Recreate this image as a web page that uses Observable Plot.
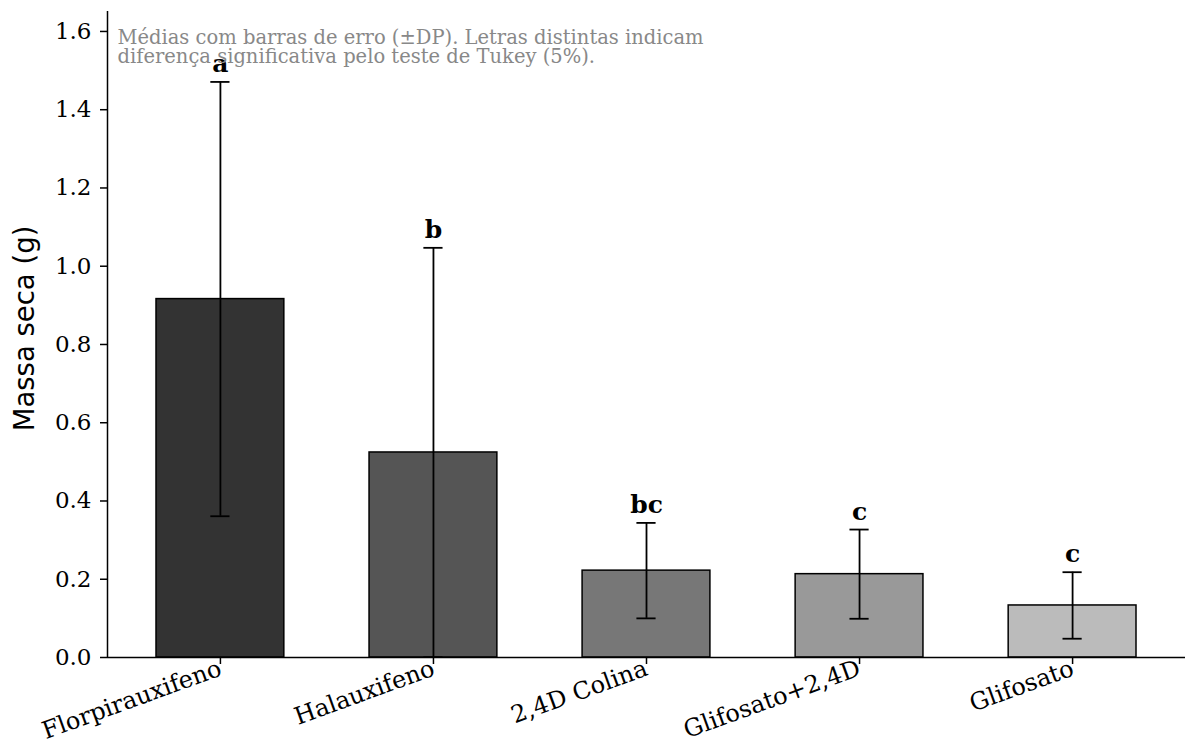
<!DOCTYPE html>
<html>
<head>
<meta charset="utf-8">
<script src="https://cdn.jsdelivr.net/npm/d3@7"></script>
<script src="https://cdn.jsdelivr.net/npm/@observablehq/plot@0.6"></script>
<style>
  html, body { margin: 0; padding: 0; background: #fff; }
  svg { display: block; }
</style>
</head>
<body>
<div id="chart"></div>
<script>
const categories = ["Florpirauxifeno", "Halauxifeno", "2,4D Colina", "Glifosato+2,4D", "Glifosato"];
const means = [0.916, 0.524, 0.222, 0.213, 0.133];
const sds = [0.555, 0.523, 0.122, 0.114, 0.085];
const letters = ["a", "b", "bc", "c", "c"];
const barColors = ["#333333", "#555555", "#777777", "#999999", "#bbbbbb"];
const yTicks = [0, 0.2, 0.4, 0.6, 0.8, 1.0, 1.2, 1.4, 1.6];
const yLabel = "Massa seca (g)";
const noteLines = ["Médias com barras de erro (±DP). Letras distintas indicam", "diferença significativa pelo teste de Tukey (5%)."];

const data = categories.map((c, i) => ({
  i, cat: c, mean: means[i], sd: sds[i], letter: letters[i], color: barColors[i],
  lo: Math.max(0, means[i] - sds[i]), hi: means[i] + sds[i]
}));

const serif = "DejaVu Serif";
const half = 0.3, cap = 0.045;

const noteStyle = {
  frameAnchor: "top-left", dx: 10, text: d => d, textAnchor: "start", lineAnchor: "bottom",
  fontFamily: serif, fontSize: 19.5, fill: "#888888"
};

const chart = Plot.plot({
  width: 1185,
  height: 743,
  marginLeft: 107,
  marginRight: 0,
  marginTop: 11,
  marginBottom: 86,
  style: { fontFamily: serif, background: "#fff", color: "#000" },
  x: { type: "linear", domain: [-0.53, 4.53] },
  y: { domain: [0, 1.651] },
  marks: [
    Plot.rectY(data, {
      x1: d => d.i - half, x2: d => d.i + half, y1: 0, y2: "mean",
      fill: d => d.color, stroke: "#000", strokeWidth: 1.5
    }),
    Plot.ruleX(data, { x: "i", y1: "lo", y2: "hi", stroke: "#000", strokeWidth: 1.8 }),
    Plot.ruleY(data, { y: "hi", x1: d => d.i - cap, x2: d => d.i + cap, stroke: "#000", strokeWidth: 1.8 }),
    Plot.ruleY(data, { y: "lo", x1: d => d.i - cap, x2: d => d.i + cap, stroke: "#000", strokeWidth: 1.8 }),
    Plot.text(data, {
      x: "i", y: "hi", text: "letter", dy: -10, lineAnchor: "bottom",
      fontFamily: serif, fontWeight: "bold", fontSize: 25, fill: "#000"
    }),
    Plot.ruleX([-0.53], { stroke: "#000", strokeWidth: 1.5 }),
    Plot.ruleY([0], { stroke: "#000", strokeWidth: 1.5 }),
    Plot.axisY({
      ticks: yTicks, tickFormat: d3.format(".1f"), tickSize: 7, tickPadding: 9,
      fontSize: 23, label: null, strokeWidth: 1.5
    }),
    Plot.axisX({
      ticks: d3.range(categories.length), tickFormat: i => categories[i],
      tickSize: 7, tickPadding: 3, tickRotate: -20, fontSize: 24, label: null, strokeWidth: 1.5
    }),
    Plot.text([yLabel], {
      frameAnchor: "left", rotate: -90, dx: -82, dy: -6, text: d => d,
      textAnchor: "middle", lineAnchor: "middle",
      fontFamily: "DejaVu Sans", fontSize: 27.5, fill: "#000"
    }),
    Plot.text([noteLines[0]], { ...noteStyle, dy: 32 }),
    Plot.text([noteLines[1]], { ...noteStyle, dy: 51 })
  ]
});
document.getElementById("chart").appendChild(chart);
</script>
</body>
</html>
